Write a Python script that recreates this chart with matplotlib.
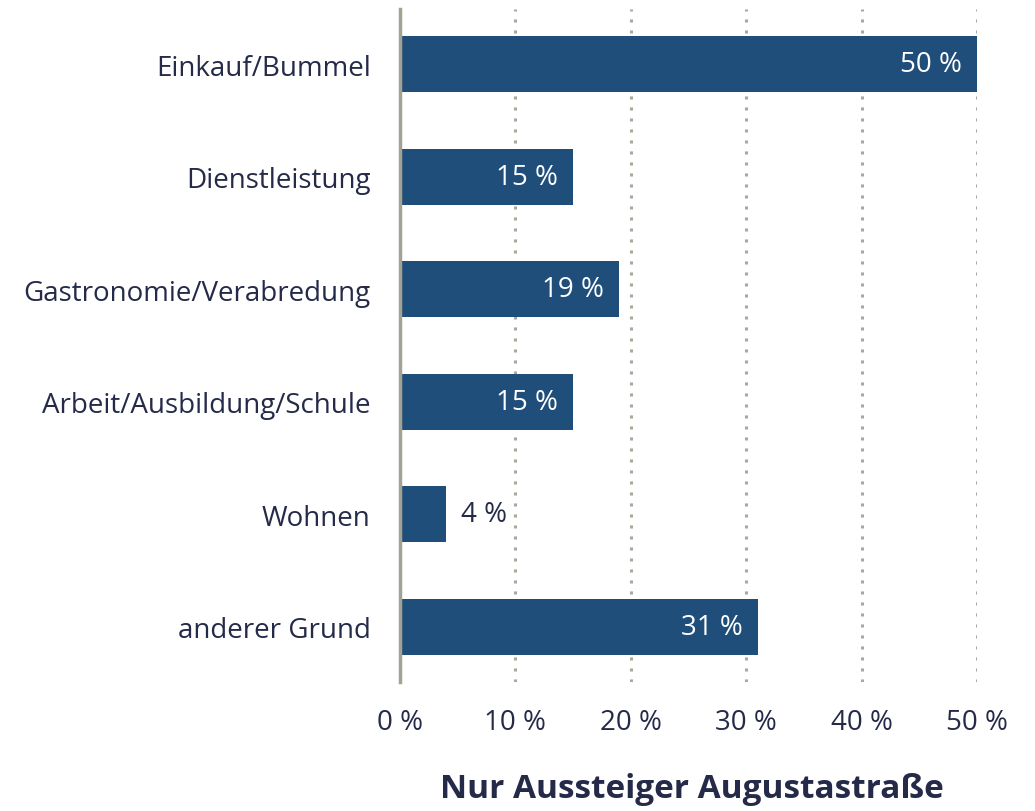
"""Horizontal bar chart: reasons for visiting, Augustastraße alighting passengers only."""

import matplotlib

matplotlib.use("Agg")

import matplotlib.pyplot as plt

CATEGORIES = [
    "Einkauf/Bummel",
    "Dienstleistung",
    "Gastronomie/Verabredung",
    "Arbeit/Ausbildung/Schule",
    "Wohnen",
    "anderer Grund",
]
SHARES = [50, 15, 19, 15, 4, 31]
X_TICKS = [0, 10, 20, 30, 40, 50]
TITLE = "Nur Aussteiger Augustastraße"

BAR_COLOUR = "#1f4e7b"
TEXT_COLOUR = "#252a48"
AXIS_COLOUR = "#a3a393"
GRID_COLOUR = "#a8a89c"
FONT = "Open Sans"
SIZE = 20

figure = plt.figure(figsize=(10.35, 8.12), dpi=100)
axes = figure.add_axes([400 / 1035, 1 - 683 / 812, 577 / 1035, 673 / 812])

positions = list(range(len(CATEGORIES)))
axes.barh(positions, SHARES, height=0.5, color=BAR_COLOUR, zorder=2)

for position, share in zip(positions, SHARES):
    label = f"{share} %"
    if share >= 10:
        axes.text(share - 1.3, position, label, ha="right", va="center",
                  color="white", fontsize=SIZE, family=FONT, zorder=3)
    else:
        axes.text(share + 1.3, position, label, ha="left", va="center",
                  color=TEXT_COLOUR, fontsize=SIZE, family=FONT, zorder=3)

axes.set_xlim(0, 50)
axes.set_ylim(len(CATEGORIES) - 0.51, -0.49)
axes.set_yticks(positions)
axes.set_yticklabels(CATEGORIES)
axes.set_xticks(X_TICKS)
axes.set_xticklabels([f"{tick} %" for tick in X_TICKS])
axes.tick_params(axis="both", length=0, colors=TEXT_COLOUR, labelsize=SIZE)
axes.tick_params(axis="y", pad=21)
axes.tick_params(axis="x", pad=19)
for label in axes.get_xticklabels() + axes.get_yticklabels():
    label.set_family(FONT)

for tick in X_TICKS[1:]:
    axes.axvline(tick, color=GRID_COLOUR, linestyle=(0, (1, 2.6)),
                 linewidth=2.2, zorder=1)

for side in ("top", "right", "bottom"):
    axes.spines[side].set_visible(False)
axes.spines["left"].set_color(AXIS_COLOUR)
axes.spines["left"].set_linewidth(2.5)
axes.spines["left"].set_zorder(4)

figure.text(692 / 1035, 1 - 790 / 812, TITLE, ha="center", va="center",
            fontsize=24, fontweight="bold", color=TEXT_COLOUR, family=FONT)

figure.savefig("out.png", dpi=100)
